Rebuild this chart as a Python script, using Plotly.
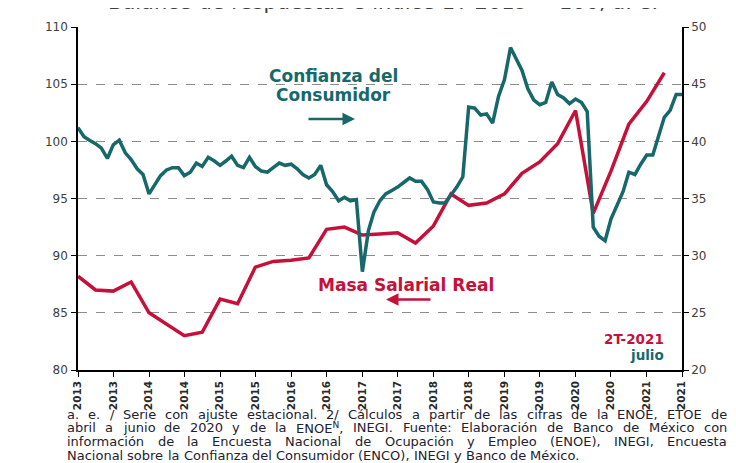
import pandas as pd
import plotly.graph_objects as go

# Confianza del Consumidor (balance de respuestas, eje derecho), mensual ene-2013 a jul-2021
confianza = [41.2, 40.4, 40.1, 39.8, 39.4, 38.5, 39.7, 40.1, 39.0, 38.4,
             37.6, 37.1, 35.4, 36.2, 37.0, 37.5, 37.7, 37.7, 37.0, 37.3,
             38.1, 37.8, 38.6, 38.3, 37.9, 38.3, 38.7, 37.9, 37.7, 38.6,
             37.8, 37.4, 37.3, 37.7, 38.1, 37.9, 38.0, 37.6, 37.1, 36.8,
             37.1, 37.9, 36.2, 35.6, 34.8, 35.1, 34.8, 34.9, 28.6, 32.2,
             33.8, 34.8, 35.4, 35.7, 36.0, 36.4, 36.8, 36.5, 36.5, 35.8,
             34.7, 34.6, 34.6, 35.3, 36.0, 36.9, 43.0, 42.9, 42.3, 42.4,
             41.6, 43.9, 45.4, 48.2, 47.2, 46.2, 44.6, 43.6, 43.2, 43.4,
             45.2, 44.1, 43.8, 43.3, 43.7, 43.4, 42.6, 32.5, 31.7, 31.3,
             33.2, 34.5, 35.6, 37.3, 37.1, 38.0, 38.8, 38.8, 40.3, 42.1,
             42.7, 44.1, 44.1]

# Masa Salarial Real (índice, eje izquierdo), trimestral 1T-2013 a 2T-2021
masa = [88.2, 87.0, 86.9, 87.7, 85.0, 84.0, 83.0, 83.3, 86.2, 85.8,
        89.0, 89.5, 89.6, 89.8, 92.3, 92.5, 91.8, 91.9, 92.0, 91.1,
        92.6, 95.4, 94.4, 94.6, 95.4, 97.2, 98.2, 99.8, 102.7, 93.7,
        97.4, 101.5, 103.5, 106.0]

meses = pd.date_range("2013-01-01", periods=len(confianza), freq="MS")
trimestres = pd.date_range("2013-01-01", periods=len(masa), freq="QS")

tick_fechas = pd.date_range("2013-01-01", "2021-07-01", freq="6MS")
tick_textos = ["2013", "2013", "2014", "2014", "2015", "2015", "2016", "2016",
               "2017", "2017", "2018", "2018", "2019", "2019", "2020", "2020",
               "2021", "2021"]

nota = [
    "a. e. / Serie con ajuste estacional. 2/ Cálculos a partir de las cifras de la ENOE, ETOE de",
    "abril a junio de 2020 y de la ENOE<sup>N</sup>, INEGI. Fuente: Elaboración de Banco de México con",
    "información de la Encuesta Nacional de Ocupación y Empleo (ENOE), INEGI, Encuesta",
    "Nacional sobre la Confianza del Consumidor (ENCO), INEGI y Banco de México.",
]

TEAL = "#17686b"
RED = "#c5113a"
FONT = "DejaVu Sans"

fig = go.Figure()
fig.add_trace(go.Scatter(x=trimestres, y=masa, mode="lines",
                         line=dict(color=RED, width=3.5), yaxis="y",
                         name="Masa Salarial Real"))
fig.add_trace(go.Scatter(x=meses, y=confianza, mode="lines",
                         line=dict(color=TEAL, width=3.5), yaxis="y2",
                         name="Confianza del Consumidor"))

# page has an 8px body margin: figure is placed at (8, 8)
fig.update_layout(
    width=728, height=455,
    margin=dict(l=70, r=54, t=12, b=93),
    paper_bgcolor="white", plot_bgcolor="white",
    showlegend=False,
    font=dict(family=FONT, color="#404040", size=12),
    xaxis=dict(range=[pd.Timestamp("2013-01-01"), pd.Timestamp("2021-07-01")],
               tickvals=tick_fechas, ticktext=tick_textos, tickangle=-90,
               ticks="outside", ticklen=5, tickcolor="black",
               showline=True, linecolor="black", linewidth=1.5,
               showgrid=False, zeroline=False,
               tickfont=dict(size=10.5, color="#2a2a2a", family="DejaVu Sans", weight="bold")),
    yaxis=dict(range=[80, 110], dtick=5, ticks="outside", ticklen=5,
               ticklabelstandoff=1,
               tickcolor="black", showline=True, linecolor="black",
               linewidth=1.5, showgrid=True, gridcolor="#8c8c8c",
               griddash="dash", gridwidth=1, zeroline=False,
               tickfont=dict(size=12, color="#404040")),
    yaxis2=dict(range=[20, 50], dtick=5, overlaying="y", side="right",
                ticks="outside", ticklen=5, tickcolor="black",
                showline=True, linecolor="black", linewidth=1.5,
                showgrid=False, zeroline=False,
                tickfont=dict(size=12, color="#404040")),
)

def px_x(x):
    return (x - 78) / 604.0

def px_y(y):
    return 1 - (y - 20) / 350.0

anns = [
    dict(text="Balance de respuestas e índice 1T 2019 = 100, a. e.",
         x=px_x(383), y=px_y(-6), xanchor="center", yanchor="middle",
         font=dict(size=21, color="#404040")),
    dict(text="<b>Confianza del</b>", x=px_x(333), y=px_y(70),
         xanchor="center", yanchor="middle",
         font=dict(size=17, color=TEAL)),
    dict(text="<b>Consumidor</b>", x=px_x(333), y=px_y(89),
         xanchor="center", yanchor="middle",
         font=dict(size=17, color=TEAL)),
    dict(text="<b>Masa Salarial Real</b>", x=px_x(406), y=px_y(283),
         xanchor="center", yanchor="middle",
         font=dict(size=17, color=RED)),
    dict(text="<b>2T-2021</b>", x=px_x(666), y=px_y(338),
         xanchor="right", yanchor="middle",
         font=dict(size=13.5, color=RED)),
    dict(text="<b>julio</b>", x=px_x(666), y=px_y(355),
         xanchor="right", yanchor="middle",
         font=dict(size=13.5, color=TEAL)),
]

# approximate DejaVu Sans advance widths (units per em = 2048) for justified footnote
W = {" ": 651, "!": 821, "(": 799, ")": 799, ",": 651, "-": 739, ".": 651,
     "/": 690, ":": 690, "=": 1716}
W.update({d: 1303 for d in "0123456789"})
W.update(dict(zip("ABCDEFGHIJKLMNOPQRSTUVWXYZ",
                  [1401, 1405, 1430, 1577, 1294, 1178, 1587, 1540, 604, 604, 1343,
                   1141, 1767, 1532, 1612, 1235, 1612, 1423, 1300, 1251, 1499,
                   1401, 2025, 1403, 1251, 1403])))
W.update(dict(zip("abcdefghijklmnopqrstuvwxyz",
                  [1255, 1300, 1126, 1300, 1260, 721, 1300, 1298, 569, 569, 1186,
                   569, 1995, 1298, 1253, 1300, 1300, 842, 1067, 803, 1298, 1212,
                   1675, 1212, 1212, 1075])))
W.update({"á": 1255, "é": 1260, "í": 569, "ó": 1253, "ú": 1298})

FN_SIZE = 13
LEFT, RIGHT = 66, 726

def word_width(word):
    plain = word.replace("<sup>", "").replace("</sup>", "")
    sup = 0
    if "<sup>" in word:
        s = word.split("<sup>")[1].split("</sup>")[0]
        sup = sum(W.get(c, 1250) for c in s) * 0.3
    return (sum(W.get(c, 1250) for c in plain) - sup) / 2048.0 * FN_SIZE

for i, linea in enumerate(nota):
    y = px_y(415 + 14 * i)
    words = linea.split()
    widths = [word_width(w) for w in words]
    if i < len(nota) - 1:
        gap = (RIGHT - LEFT - sum(widths)) / (len(words) - 1)
    else:
        gap = W[" "] / 2048.0 * FN_SIZE
    x = LEFT
    for w, wd in zip(words, widths):
        anns.append(dict(text=w, x=px_x(x), y=y, xanchor="left",
                         yanchor="middle", align="left", borderpad=0,
                         font=dict(size=FN_SIZE, color="#1e2230")))
        x += wd + gap

for a in anns:
    a.update(xref="paper", yref="paper", showarrow=False)
    fig.add_annotation(**a)

# flechas
fig.add_annotation(x=px_x(355), y=px_y(114), ax=-48, ay=0,
                   xref="paper", yref="paper",
                   showarrow=True, arrowhead=2, arrowsize=1, arrowwidth=2.5,
                   arrowcolor=TEAL, text="")
fig.add_annotation(x=px_x(386), y=px_y(298), ax=46, ay=0,
                   xref="paper", yref="paper",
                   showarrow=True, arrowhead=2, arrowsize=1, arrowwidth=2.5,
                   arrowcolor=RED, text="")

fig.write_html("out.html")
